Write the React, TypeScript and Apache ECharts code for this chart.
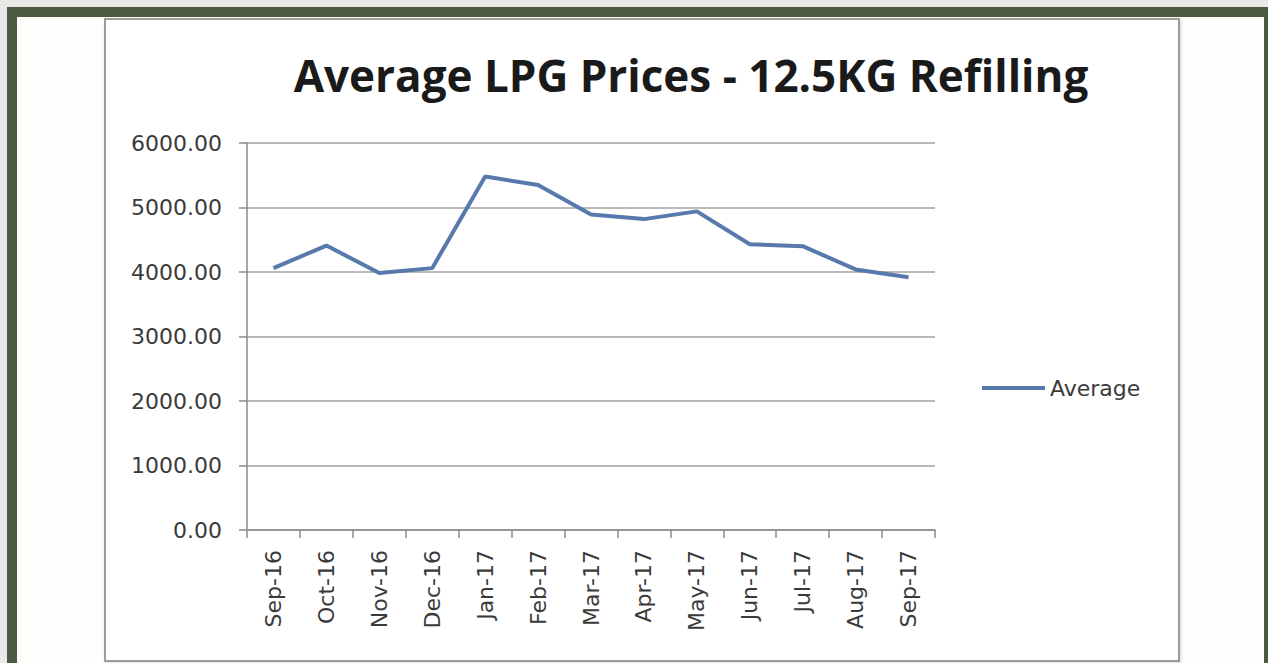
import React, { useEffect, useRef } from "react";
import * as echarts from "echarts";

const titleText = "Average LPG Prices - 12.5KG Refilling";
const seriesName = "Average";
const categories = [
  "Sep-16", "Oct-16", "Nov-16", "Dec-16", "Jan-17", "Feb-17", "Mar-17",
  "Apr-17", "May-17", "Jun-17", "Jul-17", "Aug-17", "Sep-17",
];
const averageValues = [4060, 4410, 3985, 4060, 5480, 5350, 4890, 4820, 4940, 4430, 4400, 4040, 3920];
const yMin = 0;
const yMax = 6000;
const yInterval = 1000;

export default function App() {
  const ref = useRef<HTMLDivElement>(null);
  useEffect(() => {
    if (!ref.current) return;
    const chart = echarts.init(ref.current, undefined, { renderer: "svg" });
    chart.setOption({
      animation: false,
      backgroundColor: "#e9e9e7",
      graphic: [
        { type: "rect", left: 7, top: 7, z: -10, shape: { width: 1261, height: 656 }, style: { fill: "#4b5a40" } },
        { type: "rect", left: 17, top: 17, z: -9, shape: { width: 1247, height: 646 }, style: { fill: "#fdfdfb" } },
        {
          type: "rect", left: 104, top: 18, z: -8,
          shape: { width: 1074, height: 642 },
          style: { fill: "#ffffff", stroke: "#9c9c9c", lineWidth: 2, shadowColor: "rgba(0,0,0,0.15)", shadowBlur: 3, shadowOffsetX: 1, shadowOffsetY: 1 },
        },
      ],
      title: {
        text: titleText,
        left: 686,
        top: 48,
        textAlign: "center",
        textStyle: { fontFamily: "Open Sans", fontWeight: "bold", fontSize: 44, color: "#1a1a1a" },
      },
      legend: {
        left: 977,
        top: 372,
        icon: "rect",
        itemWidth: 63,
        itemHeight: 4,
        data: [seriesName],
        textStyle: { fontFamily: "DejaVu Sans", fontSize: 22, color: "#3a3a3a" },
      },
      grid: { left: 247, top: 143, right: 333, bottom: 133, containLabel: false },
      xAxis: {
        type: "category",
        data: categories,
        boundaryGap: true,
        axisLine: { lineStyle: { color: "#8a8a8a", width: 1.5 } },
        axisTick: { show: true, length: 8, interval: 0, lineStyle: { color: "#8a8a8a", width: 1.5 } },
        axisLabel: { rotate: 90, interval: 0, margin: 20, fontFamily: "DejaVu Sans", fontSize: 22, color: "#3a3a3a" },
        splitLine: { show: false },
      },
      yAxis: {
        type: "value",
        min: yMin,
        max: yMax,
        interval: yInterval,
        axisLine: { show: true, lineStyle: { color: "#8a8a8a", width: 1.5 } },
        axisTick: { show: true, length: 8, lineStyle: { color: "#8a8a8a", width: 1.5 } },
        axisLabel: {
          margin: 25,
          fontFamily: "DejaVu Sans",
          fontSize: 22,
          color: "#3a3a3a",
          formatter: (v: number) => v.toFixed(2),
        },
        splitLine: { lineStyle: { color: "#a3a3a3", width: 1.5 } },
      },
      series: [
        {
          name: seriesName,
          type: "line",
          data: averageValues,
          symbol: "none",
          lineStyle: { color: "#5779ac", width: 4 },
          itemStyle: { color: "#5779ac" },
        },
      ],
    });
    return () => chart.dispose();
  }, []);
  return (
    <div
      ref={ref}
      style={{ position: "fixed", left: 0, top: 0, width: 1268, height: 663 }}
    />
  );
}
